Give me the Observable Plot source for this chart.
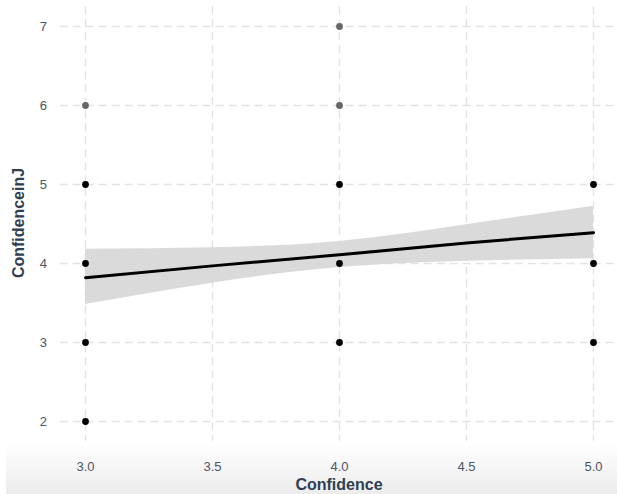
<!DOCTYPE html>
<html>
<head>
<meta charset="utf-8">
<script src="https://cdn.jsdelivr.net/npm/d3@7"></script>
<script src="https://cdn.jsdelivr.net/npm/@observablehq/plot@0.6"></script>
<style>
  html, body { margin: 0; padding: 0; background: white; }
  #wrap { position: relative; width: 617px; height: 494px; overflow: hidden; }
  #fade { position: absolute; left: 6px; right: 0; top: 442px; bottom: 0;
          background: linear-gradient(to bottom, rgba(236,236,236,0) 0%, #ececec 100%); }
  #chart { position: absolute; left: 0; top: 0; }
  #chart svg { background: transparent !important; overflow: visible; }
  #chart svg g[aria-label="x-axis tick label"] text,
  #chart svg g[aria-label="y-axis tick label"] text { font-size: 13px; }
  .axis-title { font-family: "Liberation Sans", Arial, sans-serif; font-weight: bold; font-size: 16px; fill: #2f3e52; }
</style>
</head>
<body>
<div id="wrap"><div id="fade"></div><div id="chart"></div></div>
<script>
// Observed points (x = Confidence, y = ConfidenceinJ); shade = darker where overplotted
const pointX     = [3, 3, 3, 3, 3, 4, 4, 4, 4, 4, 5, 5, 5];
const pointY     = [2, 3, 4, 5, 6, 3, 4, 5, 6, 7, 3, 4, 5];
const pointShade = ["#000", "#000", "#000", "#000", "#666", "#000", "#000", "#000", "#666", "#666", "#000", "#000", "#000"];

// Linear fit and its confidence band
const fitX  = [3, 3.5, 4, 4.5, 5];
const fitY  = [3.82, 3.97, 4.11, 4.26, 4.39];
const bandLo = [3.48, 3.75, 3.95, 4.03, 4.06];
const bandHi = [4.18, 4.20, 4.28, 4.49, 4.725];

const xTicks = [3.0, 3.5, 4.0, 4.5, 5.0];
const yTicks = [2, 3, 4, 5, 6, 7];

const points = pointX.map((x, i) => ({x, y: pointY[i], c: pointShade[i]}));
const fit = fitX.map((x, i) => ({x, y: fitY[i], lo: bandLo[i], hi: bandHi[i]}));

const font = '"Liberation Sans", Arial, sans-serif';
const grid = {stroke: "#e3e3e3", strokeWidth: 1.4, strokeOpacity: 1, strokeDasharray: "8,5"};

const chart = Plot.plot({
  width: 617,
  height: 494,
  marginLeft: 59.6,
  marginRight: 0,
  marginTop: 6.25,
  marginBottom: 53.25,
  style: {fontFamily: font, fontSize: "13px", background: "transparent", overflow: "visible"},
  x: {domain: [2.9, 5.0945]},
  y: {domain: [1.75, 7.25]},
  marks: [
    Plot.ruleY(yTicks, {...grid}),
    Plot.ruleX(xTicks, {...grid}),
    Plot.areaY(fit, {x: "x", y1: "lo", y2: "hi", fill: "#d6d6d6", fillOpacity: 0.9, curve: "natural"}),
    Plot.line(fit, {x: "x", y: "y", stroke: "black", strokeWidth: 3}),
    Plot.dot(points, {x: "x", y: "y", r: 3.4, fill: "c", stroke: "none"}),
    Plot.axisY(yTicks, {tickSize: 0, tickPadding: 13, fill: "#4b5565", label: null, tickFormat: d => String(d)}),
    Plot.axisX(xTicks, {anchor: "bottom", tickSize: 0, tickPadding: 21, fill: "#4b5565", label: null, tickFormat: d => d.toFixed(1)})
  ]
});
document.getElementById("chart").appendChild(chart);

// Axis titles
const svg = d3.select(chart);
svg.append("text").attr("class", "axis-title")
  .attr("x", 339).attr("y", 490).attr("text-anchor", "middle").text("Confidence");
svg.append("text").attr("class", "axis-title")
  .attr("transform", "translate(24,223) rotate(-90)").attr("text-anchor", "middle").text("ConfidenceinJ");
</script>
</body>
</html>
